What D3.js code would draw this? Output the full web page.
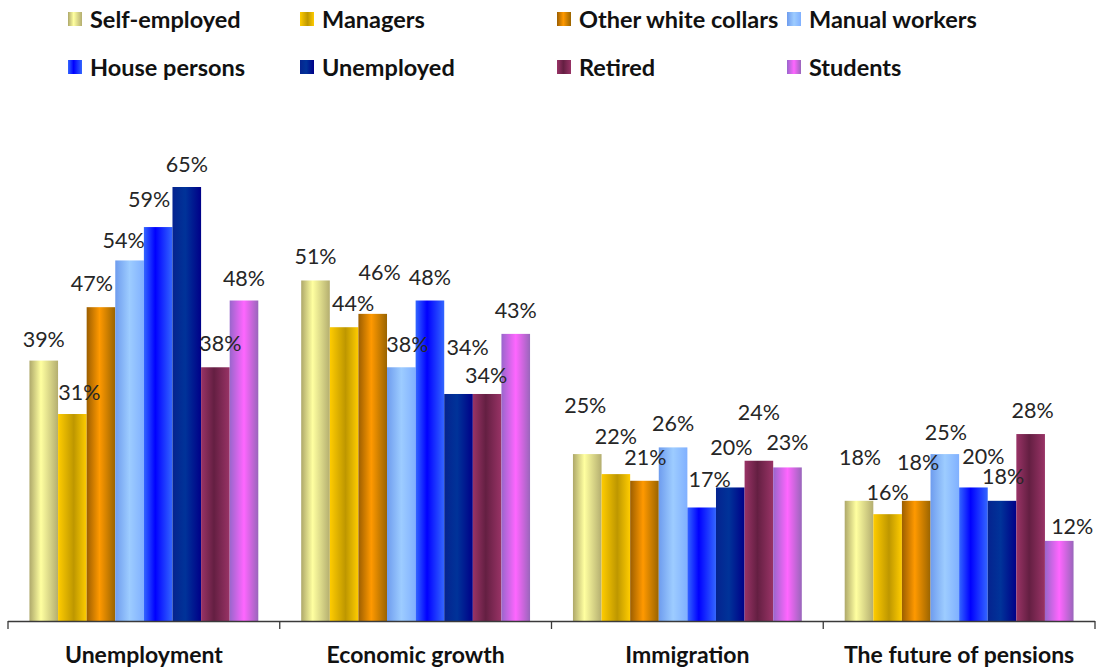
<!DOCTYPE html>
<html><head><meta charset="utf-8">
<script src="https://cdn.jsdelivr.net/npm/d3@7"></script>
<style>body{margin:0;background:#fff}svg{display:block}</style>
</head><body>
<svg id="chart" width="1101" height="668"></svg>
<script>
const categories = ["Unemployment", "Economic growth", "Immigration", "The future of pensions"];
const seriesNames = ["Self-employed", "Managers", "Other white collars", "Manual workers", "House persons", "Unemployed", "Retired", "Students"];
const selfEmployed = [39, 51, 25, 18];
const managers = [31, 44, 22, 16];
const otherWhiteCollars = [47, 46, 21, 18];
const manualWorkers = [54, 38, 26, 25];
const housePersons = [59, 48, 17, 20];
const unemployed = [65, 34, 20, 18];
const retired = [38, 34, 24, 28];
const students = [48, 43, 23, 12];
const seriesValues = [selfEmployed, managers, otherWhiteCollars, manualWorkers, housePersons, unemployed, retired, students];

// label nudges (px) from the default position above each bar, [category][series]
const labelDx = [
  [0, 7, -9, -6, -9, 0, 5, 0],
  [0, 9, 7, 6, 0, 9, -1, 0],
  [-2, 0, 1, 0, 8, 1, 0, 0],
  [1, 0, 2, 1, 10, 1, 2, 13]
];
const labelDy = [
  [-22, -22, -24, -20, -28, -23, -24, -23],
  [-24, -24, -42, -23, -24, -47, -19, -24],
  [-49, -38, -24, -24, -28, -40, -49, -25],
  [-44, -22, -39, -22, -31, -25, -24, -15]
];

const gradients = [
  [[0, "#aea86a"], [0.4, "#ffffa0"], [1, "#b4ae70"]],
  [[0, "#ffcc00"], [0.55, "#be9700"], [1, "#ffcc00"]],
  [[0, "#9c5e00"], [0.45, "#ff9900"], [1, "#9a6400"]],
  [[0, "#6e9cee"], [0.5, "#9dccff"], [1, "#80b0ff"]],
  [[0, "#3366ff"], [0.4, "#0000ff"], [1, "#3366ff"]],
  [[0, "#05238f"], [0.45, "#003399"], [1, "#000088"]],
  [[0, "#993366"], [0.45, "#641f42"], [1, "#993366"]],
  [[0, "#9966cc"], [0.5, "#ff66ff"], [1, "#9966bb"]]
];

const svg = d3.select("#chart");
const defs = svg.append("defs");
gradients.forEach((stops, i) => {
  const g = defs.append("linearGradient").attr("id", "grad" + i)
    .attr("x1", "0").attr("y1", "0").attr("x2", "1").attr("y2", "0");
  stops.forEach(s => g.append("stop").attr("offset", s[0]).attr("stop-color", s[1]));
});

const x0 = d3.scaleBand().domain(categories).range([8, 1095]).paddingInner(0).paddingOuter(0);
const x1 = d3.scaleBand().domain(seriesNames).range([0, x0.bandwidth()]).paddingInner(0).paddingOuter(0.75);
const y = d3.scaleLinear().domain([0, 65]).range([621, 187]);

const groups = svg.append("g").selectAll("g").data(categories).join("g")
  .attr("transform", d => `translate(${x0(d)},0)`);

groups.each(function(cat, ci) {
  const g = d3.select(this);
  seriesNames.forEach((s, si) => {
    const v = seriesValues[si][ci];
    g.append("rect")
      .attr("x", x1(s)).attr("width", x1.bandwidth())
      .attr("y", y(v)).attr("height", y(0) - y(v))
      .attr("fill", `url(#grad${si})`);
  });
});
groups.each(function(cat, ci) {
  const g = d3.select(this);
  seriesNames.forEach((s, si) => {
    const v = seriesValues[si][ci];
    g.append("text")
      .attr("x", x1(s) + x1.bandwidth() / 2 + labelDx[ci][si])
      .attr("y", y(v) + labelDy[ci][si])
      .attr("text-anchor", "middle").attr("dominant-baseline", "central")
      .attr("font-family", "Lato, 'Open Sans', sans-serif").attr("font-size", 21.5)
      .attr("fill", "#262626")
      .text(v + "%");
  });
});

// axis
const axis = svg.append("g").attr("transform", "translate(0,621)")
  .call(d3.axisBottom(x0).tickSize(0).tickFormat(""));
axis.select(".domain").remove();
axis.append("line").attr("x1", 8).attr("x2", 1095).attr("y1", 0.5).attr("y2", 0.5)
  .attr("stroke", "#3a3a3a").attr("stroke-width", 1.3);
const bounds = categories.map(c => x0(c)).concat([x0.range()[1]]);
axis.selectAll(".bt").data(bounds).join("line").attr("class", "bt")
  .attr("x1", d => d).attr("x2", d => d).attr("y1", 0).attr("y2", 8)
  .attr("stroke", "#3a3a3a").attr("stroke-width", 1.3);
axis.selectAll(".cl").data(categories).join("text").attr("class", "cl")
  .attr("x", d => x0(d) + x0.bandwidth() / 2).attr("y", 33)
  .attr("text-anchor", "middle").attr("dominant-baseline", "central")
  .attr("font-family", "Lato, sans-serif").attr("font-weight", "bold").attr("font-size", 23)
  .attr("fill", "#111").text(d => d);

// legend
const legendX = [68, 300, 557, 787];
const legendY = [19, 67];
const leg = svg.append("g").selectAll("g").data(seriesNames).join("g")
  .attr("transform", (d, i) => `translate(${legendX[i % 4]},${legendY[Math.floor(i / 4)]})`);
leg.append("rect").attr("x", 0).attr("y", -7).attr("width", 14).attr("height", 14)
  .attr("fill", (d, i) => `url(#grad${i})`);
leg.append("text").attr("x", 22).attr("y", 0).attr("dominant-baseline", "central")
  .attr("font-family", "Lato, sans-serif").attr("font-weight", "bold").attr("font-size", 23.5)
  .attr("fill", "#111").text(d => d);
</script>
</body></html>
